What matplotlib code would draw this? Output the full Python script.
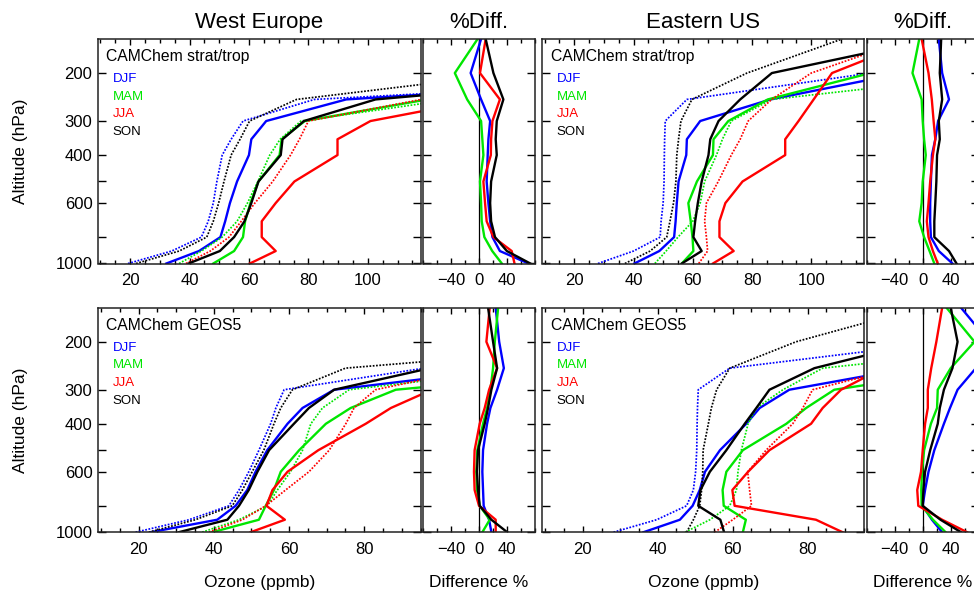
import matplotlib
matplotlib.use('Agg')
import matplotlib.pyplot as plt
from matplotlib.ticker import FixedLocator, MultipleLocator, NullLocator

plt.rcParams['font.family'] = ['Liberation Sans', 'DejaVu Sans']

# pressure levels of every profile (hPa), surface first
levels = [1000, 900, 800, 700, 600, 500, 400, 350, 300, 250, 200, 150]
seasons = ['DJF', 'MAM', 'JJA', 'SON']
colors = {'DJF': '#0000ff', 'MAM': '#00e600', 'JJA': '#ff0000', 'SON': '#000000'}

p_ticks = [200, 300, 400, 500, 600, 800, 1000]
p_labels = ['200', '300', '400', '', '600', '', '1000']

# ---- West Europe, CAMChem strat/trop (ppmb) ----
we_st_solid = {
    'DJF': [32.2, 43.2, 50.4, 52.0, 53.6, 56.0, 60.0, 60.8, 65.8, 92.7, 235, 400],
    'MAM': [48.0, 55.0, 58.0, 58.7, 60.5, 63.2, 70.3, 71.0, 78.8, 120, 200, 350],
    'JJA': [60.3, 69.0, 64.3, 64.3, 69.0, 75.3, 89.8, 89.8, 100.9, 139, 250, 400],
    'SON': [39.7, 50.2, 55.0, 58.5, 60.8, 63.2, 70.7, 71.3, 78.5, 102.6, 203, 350],
}
we_st_dot = {
    'DJF': [19.3, 34.0, 44.0, 46.3, 48.0, 49.2, 51.0, 54.0, 58.0, 82, 250, 400],
    'MAM': [36.5, 44.0, 51.0, 56.0, 59.5, 63.0, 67.0, 70.5, 77.5, 128, 250, 400],
    'JJA': [38.8, 47.0, 53.3, 57.4, 62.0, 68.0, 74.0, 77.0, 80.0, 118, 220, 400],
    'SON': [22.0, 36.5, 45.8, 48.0, 49.8, 51.6, 54.0, 57.0, 60.2, 76, 150, 300],
}
we_st_diff = {
    'DJF': [71.0, 30.0, 19.3, 16.0, 13.5, 11.0, 12.5, 13.5, 16.0, 3.0, -12.0, 3.0],
    'MAM': [32.8, 19.0, 7.7, 3.9, 3.0, 1.4, 6.3, 4.8, 3.0, -17.0, -34.7, -2.0],
    'JJA': [51.0, 47.0, 20.7, 11.0, 8.7, 6.3, 17.0, 17.4, 19.3, 30.0, 1.4, 9.6],
    'SON': [73.7, 40.0, 23.0, 17.4, 16.0, 17.4, 25.5, 24.0, 25.5, 35.0, 20.7, 9.6],
}

# ---- Eastern US, CAMChem strat/trop ----
eus_st_solid = {
    'DJF': [40.3, 48.7, 53.7, 54.2, 54.6, 55.2, 57.8, 58.0, 62.5, 86.2, 131, 200],
    'MAM': [56.3, 60.2, 59.9, 59.3, 58.5, 61.4, 66.8, 67.0, 72.0, 85.3, 120, 170],
    'JJA': [66.8, 73.8, 69.0, 69.0, 71.0, 76.8, 91.2, 91.2, 95.7, 100.8, 107, 136],
    'SON': [56.3, 63.0, 60.2, 60.8, 61.7, 63.0, 65.3, 65.9, 68.7, 76.0, 86.7, 141],
}
eus_st_dot = {
    'DJF': [28.0, 40.0, 49.0, 49.3, 50.0, 50.3, 50.4, 50.5, 50.7, 58.0, 120, 200],
    'MAM': [47.2, 51.0, 55.0, 60.0, 62.5, 64.0, 68.0, 70.0, 73.0, 86.6, 166, 250],
    'JJA': [62.0, 65.0, 64.6, 64.0, 64.6, 68.6, 73.0, 76.0, 78.7, 86.6, 100, 133],
    'SON': [37.1, 45.6, 51.2, 52.3, 53.5, 54.3, 54.6, 55.2, 56.0, 59.7, 78.3, 110.4],
}
eus_st_diff = {
    'DJF': [42.5, 23.0, 11.7, 10.7, 10.7, 11.7, 13.2, 18.0, 22.0, 37.6, 27.8, 23.0],
    'MAM': [16.6, 9.8, 2.0, -4.9, -1.5, 0.0, 4.4, 2.0, 0.0, -1.5, -14.6, -4.9],
    'JJA': [21.5, 14.6, 8.3, 5.9, 8.3, 10.7, 14.6, 18.0, 15.6, 13.0, 8.3, -1.5],
    'SON': [48.3, 37.6, 16.6, 16.6, 18.0, 19.5, 20.5, 24.4, 23.0, 27.8, 24.4, 26.4],
}

# ---- West Europe, CAMChem GEOS5 ----
we_g5_solid = {
    'DJF': [23.2, 40.9, 45.8, 48.9, 51.1, 54.2, 59.6, 63.6, 72.0, 120, 200, 300],
    'MAM': [39.6, 52.0, 53.8, 56.0, 57.8, 62.7, 69.8, 76.4, 88.4, 150, 250, 400],
    'JJA': [49.8, 58.9, 54.0, 55.6, 59.6, 67.8, 80.4, 87.1, 98.0, 130, 200, 300],
    'SON': [30.7, 43.6, 46.7, 49.3, 51.6, 54.7, 61.3, 65.3, 72.0, 97.5, 128, 170],
}
we_g5_dot = {
    'DJF': [19.2, 33.4, 44.0, 46.7, 49.3, 52.0, 55.1, 56.5, 58.7, 96, 200, 300],
    'MAM': [36.9, 46.7, 54.2, 56.9, 60.4, 63.6, 65.8, 68.9, 76.0, 125, 200, 300],
    'JJA': [38.7, 47.6, 53.8, 59.1, 65.3, 70.7, 75.1, 77.3, 83.0, 110, 200, 300],
    'SON': [22.7, 35.1, 44.9, 47.6, 50.2, 53.3, 56.0, 57.8, 60.9, 75, 160, 300],
}
we_g5_diff = {
    'DJF': [17.8, 14.5, 6.7, 5.8, 4.8, 5.8, 11.6, 16.4, 26.0, 35.7, 29.0, 24.0],
    'MAM': [4.8, 15.4, 1.0, -2.9, -3.9, -2.4, 5.8, 11.6, 16.4, 20.2, 22.7, 27.5],
    'JJA': [24.0, 24.0, 0.0, -6.3, -7.2, -6.3, 1.0, 8.2, 14.5, 26.0, 10.6, 15.4],
    'SON': [40.5, 17.8, 1.0, -1.4, -2.9, -1.4, 8.2, 13.0, 17.8, 26.0, 20.2, 13.0],
}

# ---- Eastern US, CAMChem GEOS5 ----
eus_g5_solid = {
    'DJF': [36.2, 45.9, 49.3, 51.2, 52.6, 56.6, 63.6, 67.2, 75.1, 107, 150, 250],
    'MAM': [62.7, 63.5, 57.6, 57.3, 58.3, 62.7, 74.3, 79.6, 87.1, 125, 200, 300],
    'JJA': [89.3, 82.2, 60.5, 59.9, 64.1, 69.8, 80.9, 84.0, 88.9, 100, 150, 250],
    'SON': [57.7, 56.7, 50.8, 51.4, 53.9, 58.3, 63.2, 66.3, 69.8, 81.8, 110, 140],
}
eus_g5_dot = {
    'DJF': [28.2, 39.7, 47.7, 49.5, 50.1, 50.4, 50.5, 50.6, 50.8, 59.2, 117, 200],
    'MAM': [47.3, 53.9, 59.2, 61.0, 61.4, 62.3, 64.1, 66.3, 73.4, 84.0, 150, 250],
    'JJA': [55.2, 60.0, 65.0, 64.5, 64.0, 68.9, 76.0, 78.7, 81.3, 104, 150, 250],
    'SON': [47.7, 49.5, 51.2, 51.7, 52.0, 52.1, 53.5, 54.3, 55.7, 59.2, 76.9, 110],
}
eus_g5_diff = {
    'DJF': [27.8, 13.2, 0.0, 3.4, 8.3, 16.6, 30.3, 39.0, 49.8, 76.0, 95.0, 54.7],
    'MAM': [32.7, 14.6, -1.5, -2.0, -1.0, 2.0, 11.7, 20.5, 21.5, 40.0, 74.0, 34.0],
    'JJA': [63.4, 27.8, -6.3, -7.8, -2.4, 0.0, 3.4, 7.3, 7.3, 12.2, 19.5, 27.8],
    'SON': [54.7, 25.4, 0.0, 1.0, 3.4, 10.7, 21.5, 24.4, 30.3, 42.5, 49.8, 40.0],
}

W, H = 974.0, 591.0


def pressure_axis(ax, labels):
    ax.set_yscale('log')
    ax.set_ylim(1000, 150)
    ax.yaxis.set_major_locator(FixedLocator(p_ticks))
    ax.yaxis.set_minor_locator(NullLocator())
    if labels:
        ax.set_yticklabels(p_labels)
    else:
        ax.set_yticklabels([])
    ax.tick_params(which='both', direction='in', top=True, right=True,
                   labelsize=12)
    ax.tick_params(axis='y', which='major', length=5.5, width=1, pad=4)
    ax.tick_params(axis='x', which='major', length=4, width=1, pad=7)
    ax.tick_params(axis='x', which='minor', length=3, width=1)
    for sp in ax.spines.values():
        sp.set_linewidth(1.1)
        sp.set_color('#222222')


def main_panel(ax, solid, dotted, name, xmax, xticks, ylabels):
    for s in seasons:
        ax.plot(solid[s], levels, color=colors[s], lw=1.7)
        ax.plot(dotted[s], levels, color=colors[s], lw=1.25, ls=(0, (1, 0.9)))
    pressure_axis(ax, ylabels)
    ax.set_xlim(9.2, xmax)
    ax.xaxis.set_major_locator(FixedLocator(xticks))
    ax.xaxis.set_minor_locator(MultipleLocator(5))
    ax.text(0.026, 0.921, name, transform=ax.transAxes, fontsize=11.3,
            va='center', ha='left')
    for i, s in enumerate(seasons):
        ax.text(0.045, 0.822 - 0.0785 * i, s, transform=ax.transAxes,
                color=colors[s], fontsize=9.5, va='center', ha='left')


def diff_panel(ax, diff):
    ax.axvline(0, color='k', lw=0.9)
    for s in seasons:
        ax.plot(diff[s], levels, color=colors[s], lw=1.7)
    pressure_axis(ax, False)
    ax.set_xlim(-80, 80)
    ax.xaxis.set_major_locator(FixedLocator([-40, 0, 40]))
    ax.xaxis.set_minor_locator(MultipleLocator(20))


fig = plt.figure(figsize=(W / 100, H / 100), dpi=100)

rows = [
    (39.0, we_st_solid, we_st_dot, we_st_diff, eus_st_solid, eus_st_dot, eus_st_diff,
     'CAMChem strat/trop', 117.9, [20, 40, 60, 80, 100]),
    (307.7, we_g5_solid, we_g5_dot, we_g5_diff, eus_g5_solid, eus_g5_dot, eus_g5_diff,
     'CAMChem GEOS5', 95.1, [20, 40, 60, 80]),
]
ph = 224.5
for top, ws, wd, wdiff, es, ed, ediff, name, xmax, xt in rows:
    b = 1 - (top + ph) / H
    h = ph / H
    ax1 = fig.add_axes([98.0 / W, b, 323.0 / W, h])
    ax2 = fig.add_axes([423.3 / W, b, 111.4 / W, h])
    ax3 = fig.add_axes([542.3 / W, b, 322.0 / W, h])
    ax4 = fig.add_axes([866.7 / W, b, 112.0 / W, h])
    main_panel(ax1, ws, wd, name, xmax, xt, True)
    diff_panel(ax2, wdiff)
    main_panel(ax3, es, ed, name, xmax, xt, False)
    diff_panel(ax4, ediff)
    fig.text(20.7 / W, 1 - (top + ph / 2) / H, 'Altitude (hPa)', rotation=90,
             ha='center', va='center', fontsize=12.5)

# column titles and bottom labels
for xc, t in [(259.5, 'West Europe'), (479.0, '%Diff.'),
              (703.3, 'Eastern US'), (922.7, '%Diff.')]:
    fig.text(xc / W, 1 - 22.7 / H, t, ha='center', va='center', fontsize=16)
for xc, t in [(259.5, 'Ozone (ppmb)'), (479.0, 'Difference %'),
              (703.3, 'Ozone (ppmb)'), (922.7, 'Difference %')]:
    fig.text(xc / W, 1 - 582.7 / H, t, ha='center', va='center', fontsize=12.5)

fig.savefig('out.png', dpi=100)
